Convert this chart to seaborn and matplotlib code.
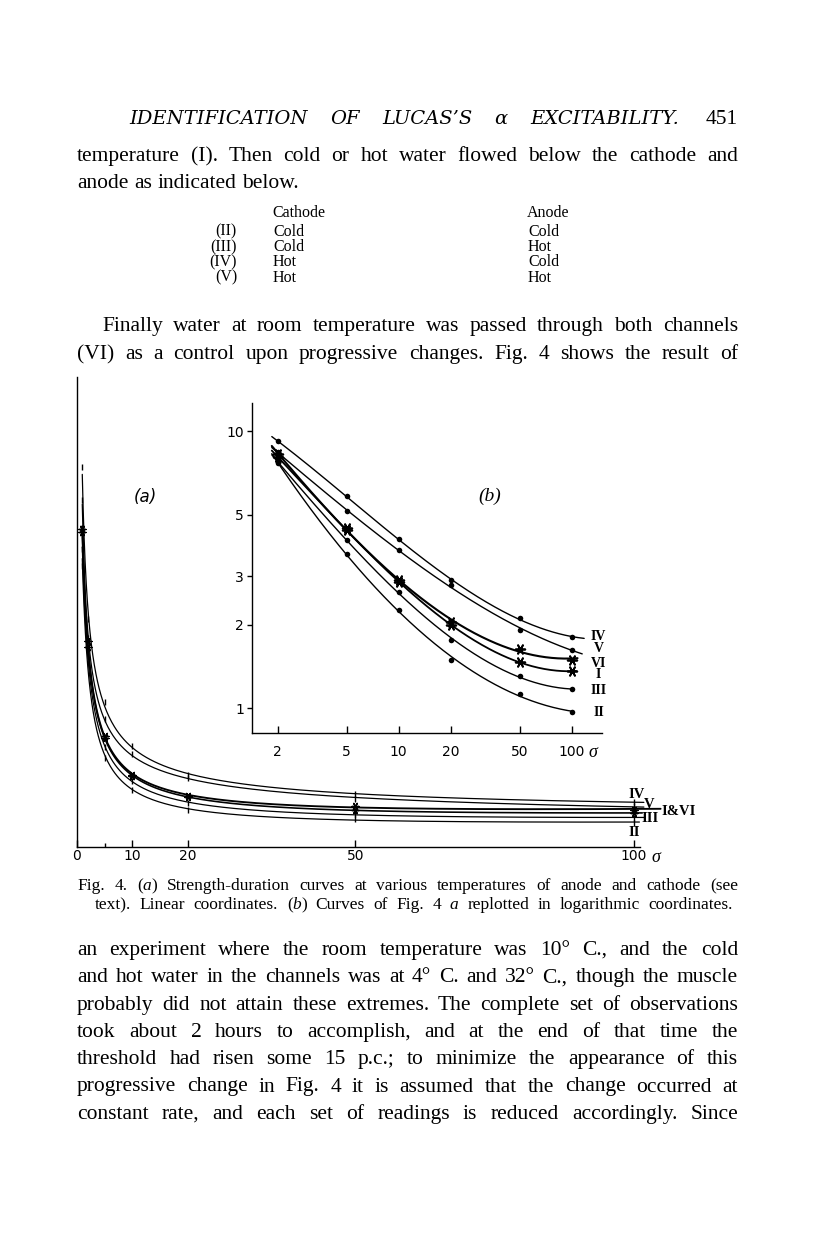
import numpy as np
import pandas as pd
import matplotlib
matplotlib.use("Agg")
import matplotlib.pyplot as plt
import matplotlib.transforms as mtransforms
import seaborn as sns

W, H = 816, 1258

# durations (sigma) and thresholds
durations = [1, 2, 5, 10, 20, 50, 100]
thr_I = [12.7, 8.07, 4.40, 2.86, 2.00, 1.47, 1.36]
thr_II = [11.3, 7.70, 3.59, 2.27, 1.50, 1.13, 0.97]
thr_III = [12.0, 7.75, 4.04, 2.63, 1.77, 1.31, 1.17]
thr_IV = [15.3, 9.20, 5.83, 4.07, 2.90, 2.11, 1.81]
thr_V = [14.0, 8.40, 5.15, 3.72, 2.78, 1.92, 1.63]
thr_VI = [12.8, 8.30, 4.46, 2.90, 2.05, 1.64, 1.50]

series = {"IV": thr_IV, "V": thr_V, "VI": thr_VI, "I": thr_I, "III": thr_III, "II": thr_II}
lin_ticks = [0, 10, 20, 50, 100]
log_xticks = [2, 5, 10, 20, 50, 100]
log_yticks = [1, 2, 3, 5, 10]

df = pd.DataFrame([(k, d, v) for k, vals in series.items() for d, v in zip(durations, vals)],
                  columns=["curve", "duration", "threshold"])

# drawing styles (label offsets in pixels)
star = (6, 2, 90)
style = {
    "IV": dict(m="o", lw=1.0, end_b=118, end_a=101.8, lab_a=(3, 7), lab_b=(27, 0), lab="IV"),
    "V": dict(m="o", lw=1.0, end_b=115, end_a=101.8, lab_a=(15, 2), lab_b=(27, 1), lab="V"),
    "VI": dict(m=star, lw=1.5, end_b=108, end_a=104.8, lab_a=None, lab_b=(27, -4), lab="VI"),
    "I": dict(m=star, lw=1.3, end_b=106, end_a=101.5, lab_a=(45, 1), lab_b=(27, -3), lab="I&VI"),
    "III": dict(m="o", lw=1.0, end_b=100, end_a=102, lab_a=(16, -1), lab_b=(27, -1), lab="III"),
    "II": dict(m="o", lw=1.0, end_b=101, end_a=101, lab_a=(0, -10), lab_b=(27, 0), lab="II"),
}

sns.set_theme(style="white")
plt.rcParams["font.family"] = ["Liberation Serif", "DejaVu Serif"]
plt.rcParams["axes.linewidth"] = 1.0
plt.rcParams["axes.edgecolor"] = "black"
for key in ["text.color", "xtick.color", "ytick.color", "axes.labelcolor"]:
    plt.rcParams[key] = "black"

fig = plt.figure(figsize=(W / 100, H / 100), dpi=100)
fig.patch.set_facecolor("white")
renderer = fig.canvas.get_renderer()
px = mtransforms.IdentityTransform()
INK = "black"


def draw_line(words, y, x0, x1=None, size=15.5, weight="normal", style_="normal", family=None):
    # words can be plain strings or lists of (text, fontstyle) runs
    fam = family or plt.rcParams["font.family"]
    while True:
        items = []
        for w in words:
            runs = w if isinstance(w, list) else [(w, style_)]
            pieces = []
            for txt, st in runs:
                t = fig.text(0, 0, txt, transform=px, fontsize=size, style=st, weight=weight,
                             va="baseline", ha="left", color=INK, family=fam)
                pieces.append((t, t.get_window_extent(renderer).width))
            items.append((pieces, sum(p[1] for p in pieces)))
        total = sum(i[1] for i in items)
        gap = size * 100 / 72 * 0.27
        if x1 is not None and len(items) > 1:
            gap = (x1 - x0 - total) / (len(items) - 1)
        if gap >= 4 or size < 10:
            break
        for pieces, _ in items:
            for t, _ in pieces:
                t.remove()
        size -= 0.3
    x = x0
    for pieces, width in items:
        for t, w_ in pieces:
            t.set_position((x, H - y))
            x += w_
        x += gap


def fit_curve(xs, ys, lo, hi):
    c = np.polyfit(np.log10(xs), np.log10(ys), 3)
    xx = np.geomspace(lo, hi, 250)
    return xx, 10 ** np.polyval(c, np.log10(xx))


L, R = 77, 738

# running head and text above the figure
draw_line(["IDENTIFICATION", "OF", "LUCAS\u2019S", "\u03b1", "EXCITABILITY."], 124, 129, 679,
          size=14, style_="italic", family=["DejaVu Serif"])
fig.text(R, H - 124, "451", transform=px, fontsize=15.5, ha="right", va="baseline", color=INK)
draw_line("temperature (I). Then cold or hot water flowed below the cathode and".split(), 161, L, R)
draw_line("anode as indicated below.".split(), 188, L)

tsize = 11.5
fig.text(272, H - 217, "Cathode", transform=px, fontsize=tsize, color=INK)
fig.text(527, H - 217, "Anode", transform=px, fontsize=tsize, color=INK)
rows = [("(II)", "Cold", "Cold"), ("(III)", "Cold", "Hot"), ("(IV)", "Hot", "Cold"), ("(V)", "Hot", "Hot")]
for i, (lab, cat, an) in enumerate(rows):
    yb = H - (235.5 + 15.4 * i)
    fig.text(237, yb, lab, transform=px, fontsize=tsize, ha="right", color=INK)
    fig.text(273, yb, cat, transform=px, fontsize=tsize, color=INK)
    fig.text(528, yb, an, transform=px, fontsize=tsize, color=INK)

draw_line("Finally water at room temperature was passed through both channels".split(), 331, 102, R)
draw_line("(VI) as a control upon progressive changes.  Fig. 4 shows the result of".split(), 359, L, R)

# (a) linear plot
ax = fig.add_axes([76.7 / W, (H - 846.7) / H, (640 - 76.7) / W, 470 / H])
ax.set_facecolor("none")
for name, vals in series.items():
    st = style[name]
    xx, yy = fit_curve(durations, vals, 1.0, st["end_a"])
    sns.lineplot(x=xx, y=yy, ax=ax, color="black", linewidth=st["lw"] * 0.9, sort=False,
                 estimator=None, clip_on=False)
    sub = df[df.curve == name]
    mk = "|" if st["m"] == "o" else star
    sns.scatterplot(data=sub, x="duration", y="threshold", ax=ax, marker=mk, s=14 if mk == "|" else 26,
                    color="black", linewidth=1.0, clip_on=False, zorder=3)
    if st["lab_a"] is not None:
        ax.annotate(st["lab"], (100, vals[-1]), xytext=st["lab_a"], textcoords="offset pixels",
                    ha="center", va="center", fontsize=10.5, weight="bold", annotation_clip=False)
ax.set_xlim(0, 101.1)
ax.set_ylim(0, 470 / 24.8)
ax.set_xticks(lin_ticks)
ax.set_xticks([5], minor=True)
ax.set_xticklabels([str(t) for t in lin_ticks], family="DejaVu Sans", fontsize=10)
ax.set_yticks([])
ax.tick_params(axis="x", which="major", direction="in", length=5, width=1, pad=2, bottom=True)
ax.tick_params(axis="x", which="minor", direction="in", length=3, width=1, bottom=True)
sns.despine(ax=ax)
ax.set_xlabel("")
ax.set_ylabel("")
ax.annotate("\u03c3", (100, 0), xycoords=("data", "axes fraction"), xytext=(16, -1.5),
            textcoords="offset points", ha="center", va="top", fontsize=13, style="italic")
ax.text(0.121, 0.745, "(a)", transform=ax.transAxes, fontsize=12, style="italic",
        family="DejaVu Sans", ha="center", va="center")

# (b) log-log inset
bx = fig.add_axes([251.7 / W, (H - 733.3) / H, 350 / W, 330 / H])
bx.set_facecolor("none")
for name, vals in series.items():
    st = style[name]
    xs, ys = durations[1:], vals[1:]
    xx, yy = fit_curve(xs, ys, 1.85, st["end_b"])
    sns.lineplot(x=xx, y=yy, ax=bx, color="black", linewidth=st["lw"], sort=False,
                 estimator=None, clip_on=False)
    sub = df[(df.curve == name) & (df.duration >= 2)]
    if st["m"] == "o":
        sns.scatterplot(data=sub, x="duration", y="threshold", ax=bx, marker="o", s=16,
                        color="black", linewidth=0, clip_on=False, zorder=3)
    else:
        sns.scatterplot(data=sub, x="duration", y="threshold", ax=bx, marker=star, s=48,
                        color="black", linewidth=1.3, clip_on=False, zorder=3)
    bx.annotate(name, (100, vals[-1]), xytext=st["lab_b"],
                textcoords="offset pixels", ha="center", va="center", fontsize=10,
                weight="bold", annotation_clip=False)
bx.set_xscale("log")
bx.set_yscale("log")
bx.set_xlim(1.416, 149)
bx.set_ylim(0.813, 12.6)
bx.set_xticks(log_xticks)
bx.set_xticklabels([str(t) for t in log_xticks], family="DejaVu Sans", fontsize=10)
bx.set_yticks(log_yticks)
bx.set_yticklabels([str(t) for t in log_yticks], family="DejaVu Sans", fontsize=10)
bx.minorticks_off()
bx.tick_params(axis="x", direction="in", length=5, width=1, pad=8.5, bottom=True)
bx.tick_params(axis="y", direction="out", length=3.5, width=1, pad=2, left=True)
sns.despine(ax=bx)
bx.set_xlabel("")
bx.set_ylabel("")
bx.annotate("\u03c3", (100, 0), xycoords=("data", "axes fraction"), xytext=(15.5, -8),
            textcoords="offset points", ha="center", va="top", fontsize=13, style="italic")
bx.text(0.681, 0.717, "(b)", transform=bx.transAxes, fontsize=14, style="italic",
        ha="center", va="center")

# caption
cap1 = ["Fig.", "4.", [("(", "normal"), ("a", "italic"), (")", "normal")]] + \
    "Strength-duration curves at various temperatures of anode and cathode (see".split()
cap2 = "text).  Linear coordinates.".split() + [[("(", "normal"), ("b", "italic"), (")", "normal")]] + \
    "Curves of Fig.".split() + [[("4", "normal")], [("a", "italic")]] + \
    "replotted in logarithmic coordinates.".split()
draw_line(cap1, 890, L, R, size=12.5)
draw_line(cap2, 909, 95, 733, size=12.5)

body = [
    "an experiment where the room temperature was 10\u00b0 C., and the cold",
    "and hot water in the channels was at 4\u00b0 C. and 32\u00b0 C., though the muscle",
    "probably did not attain these extremes. The complete set of observations",
    "took about 2 hours to accomplish, and at the end of that time the",
    "threshold had risen some 15 p.c.; to minimize the appearance of this",
    "progressive change in Fig. 4 it is assumed that the change occurred at",
    "constant rate, and each set of readings is reduced accordingly.  Since",
]
for i, line in enumerate(body):
    draw_line(line.split(), 955 + 27.3 * i, L, R)

fig.savefig("out.png", dpi=100, facecolor="white")
